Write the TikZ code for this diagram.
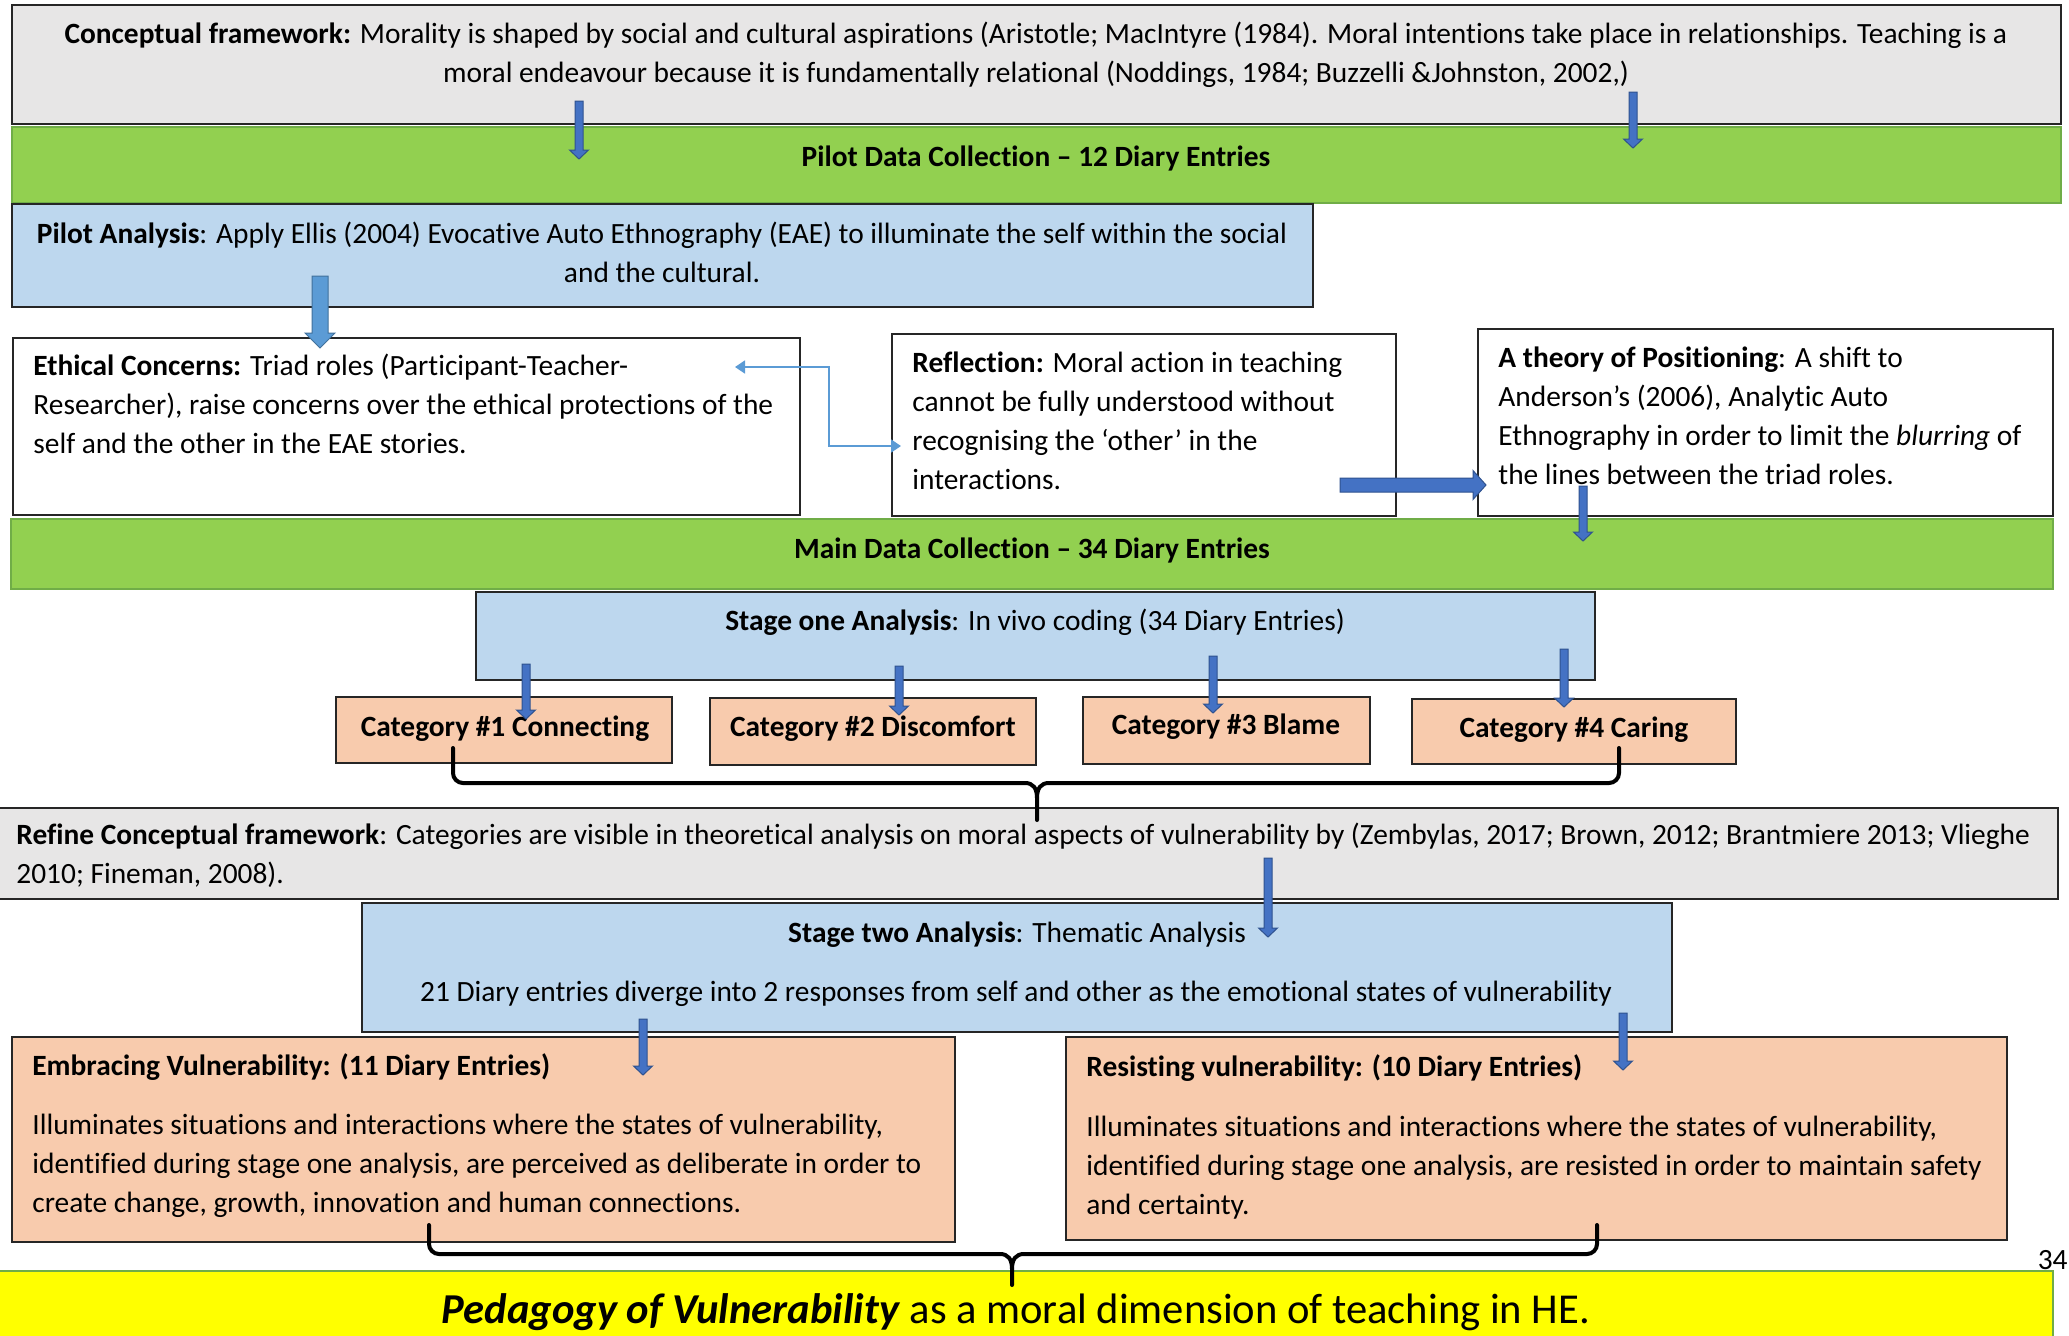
\documentclass[tikz,border=0pt]{standalone}
\usepackage{fontspec}
\setmainfont{Carlito}[Ligatures=NoCommon]
\usetikzlibrary{arrows.meta,calc}

\definecolor{frameGray}{HTML}{E7E6E6}
\definecolor{barGreen}{HTML}{92D050}
\definecolor{barEdge}{HTML}{70AD47}
\definecolor{paleBlue}{HTML}{BDD7EE}
\definecolor{peach}{HTML}{F8CBAD}
\definecolor{arrFill}{HTML}{4472C4}
\definecolor{arrEdge}{HTML}{2F528F}
\definecolor{lightArr}{HTML}{5B9BD5}
\definecolor{lightArrEdge}{HTML}{41719C}
\definecolor{hiYellow}{HTML}{FFFF00}

\newcommand{\bodyfont}{\fontsize{14.7}{19.4}\selectfont}
\newcommand{\catfont}{\fontsize{14.7}{17}\selectfont\bfseries}
\newcommand{\bannerfont}{\fontsize{21.3}{24}\selectfont}

% box from (x1,y1) to (x2,y2), coordinates in pixel units
\newcommand{\panelbox}[6]{%
  \node[panel,#1,minimum width={(#4-#2)*0.5pt},minimum height={(#5-#3)*0.5pt}] (#6) at (#2,#3) {};}

% downward block arrow: start, end, half shaft, half head, head length, style
\newcommand{\downblock}[6]{%
  \filldraw[#6] let \p1=(#1), \p2=(#2) in
    (\x1-#3*0.5pt,\y1) -- (\x1+#3*0.5pt,\y1) -- (\x1+#3*0.5pt,\y2+#5*0.5pt)
    -- (\x1+#4*0.5pt,\y2+#5*0.5pt) -- (\x1,\y2) -- (\x1-#4*0.5pt,\y2+#5*0.5pt)
    -- (\x1-#3*0.5pt,\y2+#5*0.5pt) -- cycle;}

% rightward block arrow: start, end, half shaft, half head, head length, style
\newcommand{\rightblock}[6]{%
  \filldraw[#6] let \p1=(#1), \p2=(#2) in
    (\x1,\y1+#3*0.5pt) -- (\x2-#5*0.5pt,\y1+#3*0.5pt) -- (\x2-#5*0.5pt,\y1+#4*0.5pt)
    -- (\x2,\y1) -- (\x2-#5*0.5pt,\y1-#4*0.5pt) -- (\x2-#5*0.5pt,\y1-#3*0.5pt)
    -- (\x1,\y1-#3*0.5pt) -- cycle;}

\tikzset{
  panel/.style={draw=black!85, line width=0.7pt, inner sep=0pt, outer sep=0pt, anchor=north west},
  graybox/.style={fill=frameGray},
  greenbar/.style={fill=barGreen, draw=barEdge, line width=1.2pt},
  bluebox/.style={fill=paleBlue},
  whitebox/.style={fill=white},
  peachbox/.style={fill=peach},
  yellowbar/.style={fill=hiYellow, draw=barEdge, line width=1.2pt},
  % multi-line texts are placed by the baseline of their last line
  ltxt/.style={inner sep=0pt, font=\bodyfont, align=left, anchor=base west},
  ctxt/.style={inner sep=0pt, font=\bodyfont, align=center, anchor=base},
  cattxt/.style={inner sep=0pt, font=\catfont, anchor=base},
  thinarrow/.style={fill=arrFill, draw=arrEdge, line width=0.5pt},
  widearrow/.style={fill=lightArr, draw=lightArrEdge, line width=0.5pt},
  link/.style={draw=lightArr, line width=0.8pt},
  bracket/.style={draw=black, line width=2pt, line cap=round},
}

\begin{document}
\begin{tikzpicture}[x=0.5pt,y=-0.5pt]
\useasboundingbox (0,0) rectangle (2069,1335);
\fill[white] (0,0) rectangle (2069,1335);

% ---------- panels ----------
\panelbox{graybox}{12}{5}{2061}{124}{cf}
\panelbox{greenbar}{12}{127}{2061}{203}{pilot}
\panelbox{bluebox}{12}{204}{1313}{307}{pa}
\panelbox{whitebox}{13}{338}{800}{515}{eth}
\panelbox{whitebox}{892}{334}{1396}{516}{refl}
\panelbox{whitebox}{1478}{329}{2053}{516}{theo}
\panelbox{greenbar}{11}{519}{2053}{589}{main}
\panelbox{bluebox}{476}{592}{1595}{680}{stone}
\panelbox{peachbox}{336}{697}{672}{763}{catA}
\panelbox{peachbox}{710}{698}{1036}{765}{catB}
\panelbox{peachbox}{1083}{697}{1370}{764}{catC}
\panelbox{peachbox}{1412}{699}{1736}{764}{catD}
\panelbox{graybox}{-2}{808}{2058}{899}{refine}
\panelbox{bluebox}{362}{903}{1672}{1032}{sttwo}
\panelbox{peachbox}{12}{1037}{955}{1242}{emb}
\panelbox{peachbox}{1066}{1037}{2007}{1240}{res}
\panelbox{yellowbar}{-2}{1271}{2053}{1340}{ped}

% ---------- texts ----------
\node[ctxt] (cfT) at (1036,82) {\textbf{Conceptual framework:} Morality is shaped by social and cultural aspirations (Aristotle; MacIntyre (1984). Moral intentions take place in relationships. Teaching is a\\moral endeavour because it is fundamentally relational (Noddings, 1984; Buzzelli \&Johnston, 2002,)};
\node[ctxt] (pilotT) at (1036,166) {\textbf{Pilot Data Collection – 12 Diary Entries}};
\node[ctxt] (paT) at (662,282) {\textbf{Pilot Analysis}: Apply Ellis (2004) Evocative Auto Ethnography (EAE) to illuminate the self within the social\\and the cultural.};
\node[ltxt] (ethT) at (33,453) {\textbf{Ethical Concerns:} Triad roles (Participant-Teacher-\\Researcher), raise concerns over the ethical protections of the\\self and the other in the EAE stories.};
\node[ltxt] (reflT) at (912,489) {\textbf{Reflection:} Moral action in teaching\\cannot be fully understood without\\recognising the ‘other’ in the\\interactions.};
\node[ltxt] (theoT) at (1498,484) {\textbf{A theory of Positioning}: A shift to\\Anderson’s (2006), Analytic Auto\\Ethnography in order to limit the \textit{blurring} of\\the lines between the triad roles.};
\node[ctxt] (mainT) at (1032,558) {\textbf{Main Data Collection – 34 Diary Entries}};
\node[ctxt] (stoneT) at (1035,630) {\textbf{Stage one Analysis}: In vivo coding (34 Diary Entries)};
\node[cattxt] (catAT) at (505,736) {Category \#1 Connecting};
\node[cattxt] (catBT) at (873,736) {Category \#2 Discomfort};
\node[cattxt] (catCT) at (1226,734) {Category \#3 Blame};
\node[cattxt] (catDT) at (1574,737) {Category \#4 Caring};
\node[ltxt] (refineT) at (16,883) {\textbf{Refine Conceptual framework}: Categories are visible in theoretical analysis on moral aspects of vulnerability by (Zembylas, 2017; Brown, 2012; Brantmiere 2013; Vlieghe\\2010; Fineman, 2008).};
\node[ctxt] (sttwoT) at (1017,942) {\textbf{Stage two Analysis}: Thematic Analysis};
\node[ctxt] (sttwoU) at (1016,1001) {21 Diary entries diverge into 2 responses from self and other as the emotional states of vulnerability};
\node[ltxt] (embT) at (32,1075) {\textbf{Embracing Vulnerability: (11 Diary Entries)}};
\node[ltxt] (embU) at (32,1212) {Illuminates situations and interactions where the states of vulnerability,\\identified during stage one analysis, are perceived as deliberate in order to\\create change, growth, innovation and human connections.};
\node[ltxt] (resT) at (1086,1076) {\textbf{Resisting vulnerability: (10 Diary Entries)}};
\node[ltxt] (resU) at (1086,1214) {Illuminates situations and interactions where the states of vulnerability,\\identified during stage one analysis, are resisted in order to maintain safety\\and certainty.};
\node[inner sep=0pt, font=\bannerfont, anchor=base] (pedT) at (1016,1323) {\textbf{\textit{Pedagogy of Vulnerability}} as a moral dimension of teaching in HE.};
\node[inner sep=0pt, font=\bodyfont, anchor=base east] (pageno) at (2068,1269) {34};

% ---------- connector end points ----------
\coordinate (a1s) at (579,101);   \coordinate (a1e) at (579,159);
\coordinate (a2s) at (1633,92);   \coordinate (a2e) at (1633,148);
\coordinate (a3s) at (320,276);   \coordinate (a3e) at (320,348);
\coordinate (a4s) at (1340,485);  \coordinate (a4e) at (1486,485);
\coordinate (a5s) at (1583,486);  \coordinate (a5e) at (1583,541);
\coordinate (k1s) at (526,664);   \coordinate (k1e) at (526,719);
\coordinate (k2s) at (899,666);   \coordinate (k2e) at (899,715);
\coordinate (k3s) at (1213,656);  \coordinate (k3e) at (1213,713);
\coordinate (k4s) at (1564,649);  \coordinate (k4e) at (1564,707);
\coordinate (a6s) at (1268,858);  \coordinate (a6e) at (1268,937);
\coordinate (a7s) at (643,1019);  \coordinate (a7e) at (643,1075);
\coordinate (a8s) at (1623,1013); \coordinate (a8e) at (1623,1070);
\coordinate (lnA) at (735,367);   \coordinate (lnB) at (901,446);

% ---------- block arrows ----------
\downblock{a1s}{a1e}{4}{9.5}{9}{thinarrow}
\downblock{a2s}{a2e}{4}{9.5}{9}{thinarrow}
\downblock{a3s}{a3e}{8}{15}{15}{widearrow}
\rightblock{a4s}{a4e}{7}{14.5}{13}{thinarrow}
\downblock{a5s}{a5e}{4}{9.5}{9}{thinarrow}
\downblock{k1s}{k1e}{4}{9.5}{9}{thinarrow}
\downblock{k2s}{k2e}{4}{9.5}{9}{thinarrow}
\downblock{k3s}{k3e}{4}{9.5}{9}{thinarrow}
\downblock{k4s}{k4e}{4}{9.5}{9}{thinarrow}
\downblock{a6s}{a6e}{4}{9.5}{9}{thinarrow}
\downblock{a7s}{a7e}{4}{9.5}{9}{thinarrow}
\downblock{a8s}{a8e}{4}{9.5}{9}{thinarrow}

% elbow link between the ethical concerns and the reflection
\draw[link, {Triangle[width=6.5pt,length=5pt]}-{Triangle[width=6.5pt,length=5pt]}]
  (lnA) -- (829,367) |- (lnB);

% ---------- braces ----------
\coordinate (bAl) at (453,748); \coordinate (bAr) at (1619,748); \coordinate (bAtip) at (1037,820);
\draw[bracket] (bAl) -- (453,773) to[out=-90,in=180] (463,783) -- (1025,783)
  .. controls (1033,783) and (1037,788) .. (1037,798) -- (bAtip);
\draw[bracket] (bAr) -- (1619,773) to[out=-90,in=0] (1609,783) -- (1049,783)
  .. controls (1041,783) and (1037,788) .. (1037,798);

\coordinate (bBl) at (429,1225); \coordinate (bBr) at (1597,1225); \coordinate (bBtip) at (1012,1285);
\draw[bracket] (bBl) -- (429,1244) to[out=-90,in=180] (439,1254) -- (1000,1254)
  .. controls (1008,1254) and (1012,1259) .. (1012,1269) -- (bBtip);
\draw[bracket] (bBr) -- (1597,1244) to[out=-90,in=0] (1587,1254) -- (1024,1254)
  .. controls (1016,1254) and (1012,1259) .. (1012,1269);
\end{tikzpicture}
\end{document}
